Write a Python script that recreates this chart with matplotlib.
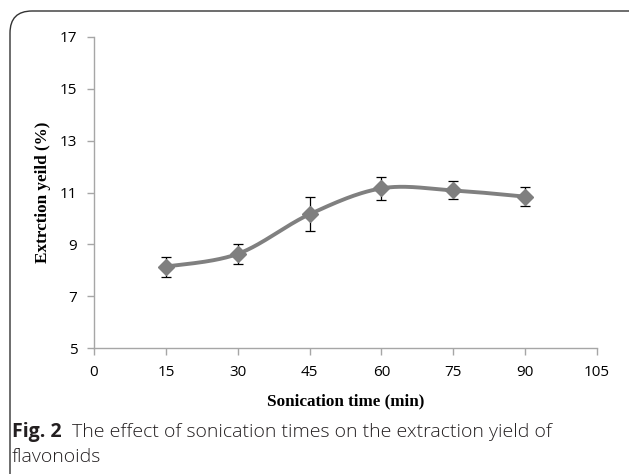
import numpy as np
import matplotlib
matplotlib.use("Agg")
import matplotlib.pyplot as plt
from matplotlib.patches import FancyBboxPatch

time_min = [15, 30, 45, 60, 75, 90]
yield_pct = [8.14, 8.63, 10.16, 11.16, 11.08, 10.84]
yield_err = [0.39, 0.37, 0.65, 0.45, 0.35, 0.37]
x_ticks = [0, 15, 30, 45, 60, 75, 90, 105]
y_ticks = [5, 7, 9, 11, 13, 15, 17]

W, H = 629, 474
fig = plt.figure(figsize=(W / 100, H / 100), dpi=100)
ax = fig.add_axes([94 / W, 1 - 348 / H, (597 - 94) / W, (348 - 37) / H])
ax.set_xlim(0, 105)
ax.set_ylim(5, 17)

tick_font = dict(family="Open Sans", size=11)
ax.set_xticks(x_ticks)
ax.set_yticks(y_ticks)
ax.set_xticklabels([str(v) for v in x_ticks], **tick_font)
ax.set_yticklabels([str(v) for v in y_ticks], **tick_font)
for s in ["top", "right"]:
    ax.spines[s].set_visible(False)
for s in ["left", "bottom"]:
    ax.spines[s].set_color("#a6a6a6")
    ax.spines[s].set_linewidth(1.0)
ax.tick_params(axis="both", direction="out", length=5, width=1.0, color="#a6a6a6")
ax.tick_params(axis="x", pad=7)
ax.tick_params(axis="y", pad=7)

# smooth line (Excel-style Catmull-Rom Bezier in display space)
fig.canvas.draw()
pts = ax.transData.transform(np.column_stack([time_min, yield_pct]))
n = len(pts)
curve = []
for i in range(n - 1):
    p0 = pts[i - 1] if i > 0 else pts[i]
    p1 = pts[i]
    p2 = pts[i + 1]
    p3 = pts[i + 2] if i + 2 < n else pts[i + 1]
    c1 = p1 + (p2 - p0) / 6.0
    c2 = p2 - (p3 - p1) / 6.0
    t = np.linspace(0, 1, 40)[:, None]
    seg = ((1 - t) ** 3) * p1 + 3 * ((1 - t) ** 2) * t * c1 + 3 * (1 - t) * t ** 2 * c2 + t ** 3 * p2
    curve.append(seg if i == 0 else seg[1:])
curve = np.vstack(curve)
cdata = ax.transData.inverted().transform(curve)
ax.plot(cdata[:, 0], cdata[:, 1], color="#808080", lw=2.8, solid_capstyle="round", zorder=2)

ax.errorbar(time_min, yield_pct, yerr=yield_err, fmt="none", ecolor="black",
            elinewidth=0.9, capsize=3.5, capthick=0.9, zorder=3)
ax.plot(time_min, yield_pct, linestyle="none", marker="D", markersize=8,
        color="#7f7f7f", markeredgecolor="#7f7f7f", zorder=4)

ax.set_xlabel("Sonication time (min)", family="Liberation Serif", weight="bold", size=12.3, va="center")
ax.set_ylabel("Extrction yeild (%)", family="Liberation Serif", weight="bold", size=12.3, va="center")
ax.xaxis.set_label_coords(0.5, (348 - 401) / 311)
ax.yaxis.set_label_coords((43 - 94) / 503, 0.5)

# caption
cap_color = "#231f20"
t1 = fig.text(12 / W, 1 - 437 / H, "Fig. 2", fontsize=14, va="baseline", ha="left",
              family="Open Sans", weight="bold", color=cap_color)
fig.canvas.draw()
bb = t1.get_window_extent()
fig.text((bb.x1 + 10) / W, 1 - 437 / H, "The effect of sonication times on the extraction yield of",
         fontsize=14, va="baseline", ha="left", family="Open Sans", weight="light", color=cap_color)
fig.text(12 / W, 1 - 462 / H, "flavonoids", fontsize=14, va="baseline", ha="left",
         family="Open Sans", weight="light", color=cap_color)

# frame
frame = FancyBboxPatch((10 / W, -0.1), 1.2, 1 - 11 / H + 0.1,
                       boxstyle="round,pad=0,rounding_size=0.035",
                       transform=fig.transFigure, fill=False, edgecolor="#333333",
                       linewidth=1.0, clip_on=False, mutation_aspect=W / H)
fig.patches.append(frame)

fig.savefig("out.png", dpi=100)
